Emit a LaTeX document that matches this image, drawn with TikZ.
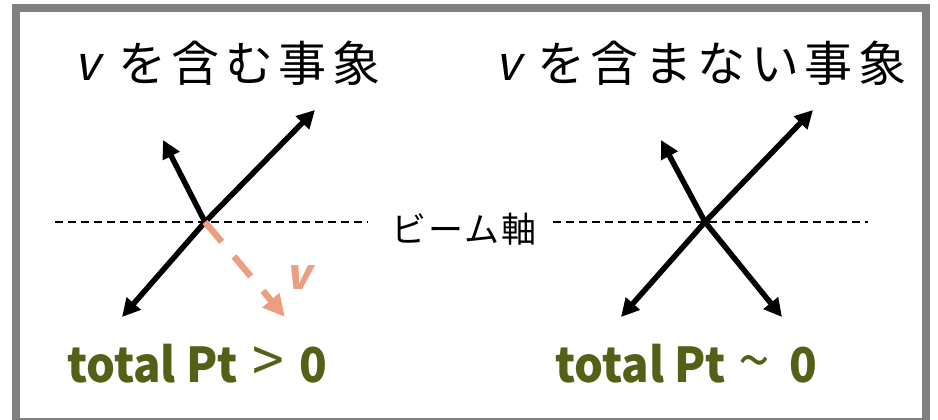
\documentclass[tikz,border=0pt]{standalone}
\usepackage{fontspec}
\setmainfont{Noto Sans CJK JP}
\newfontfamily\jpt[LetterSpace=11.5]{Noto Sans CJK JP}
\newfontfamily\jpa[LetterSpace=6]{Noto Sans CJK JP}
\newfontfamily\slfont[FakeSlant=0.22]{Noto Sans CJK JP}
\newfontfamily\resfont[FakeStretch=0.95]{Noto Sans CJK JP}
\usetikzlibrary{arrows.meta}
\definecolor{olive}{RGB}{86,95,22}
\definecolor{salmon}{RGB}{238,158,128}
\definecolor{framegray}{RGB}{128,128,128}
\newcommand{\relsym}[1]{{\fontsize{60}{60}\selectfont\mdseries #1}}
\tikzset{
  mom/.style={line width=5.5pt,-{Triangle[length=18pt,width=18pt]}},
  nu/.style={line width=6.5pt,color=salmon,dash pattern=on 26pt off 19pt,-{Triangle[length=22pt,width=21pt]}},
  beam/.style={line width=1.5pt,dash pattern=on 8pt off 5pt},
  title/.style={anchor=base west,inner sep=0pt,font=\fontsize{48}{48}\selectfont},
  result/.style={anchor=base west,inner sep=0pt,text=olive,font=\fontsize{48}{48}\selectfont\resfont\bfseries},
}
\begin{document}
\begin{tikzpicture}[x=1pt,y=-1pt]
\useasboundingbox (0,0) rectangle (938,420);
\fill[white] (0,0) rectangle (938,420);
\draw[framegray,line width=8pt] (16,8) rectangle (926,422);
% titles
\node[title] (t1v) at (74,81) {\slfont v};
\node[title] (t1) at (118,82) {\jpt を含む事象};
\node[title] (t2v) at (495,81) {\slfont v};
\node[title] (t2) at (537,82) {\jpt を含まない事象};
% beam axis
\coordinate (bl1) at (55,222); \coordinate (bl2) at (368,222);
\coordinate (br1) at (553,222); \coordinate (br2) at (868,222);
\draw[beam] (bl1) -- (bl2);
\draw[beam] (br1) -- (br2);
\node[inner sep=0pt,font=\fontsize{35}{35}\selectfont\jpa] (ax) at (464,229) {ビーム軸};
% left event
\coordinate (v1) at (205,222);
\coordinate (a1) at (163,140);
\coordinate (b1) at (315,110);
\coordinate (c1) at (122,317);
\coordinate (d1) at (285,317);
\draw[mom] (v1) -- (a1);
\draw[mom] (v1) -- (b1);
\draw[mom] (v1) -- (c1);
\draw[nu] (v1) -- (d1);
\node[inner sep=0pt,text=salmon,font=\fontsize{42}{42}\selectfont\slfont\bfseries] (nl) at (298,278) {v};
% right event
\coordinate (v2) at (705,222);
\coordinate (a2) at (661,140);
\coordinate (b2) at (813,110);
\coordinate (c2) at (621,317);
\coordinate (d2) at (782,317);
\draw[mom] (v2) -- (a2);
\draw[mom] (v2) -- (b2);
\draw[mom] (v2) -- (c2);
\draw[mom] (v2) -- (d2);
% results
\node[result] (r1) at (67,382) {total Pt\hspace{14pt}\relsym{>}\hspace{16pt}0};
\node[result] (r2) at (555,382) {total Pt\hspace{12pt}\relsym{\char"7E}\hspace{20pt}0};
\end{tikzpicture}
\end{document}
